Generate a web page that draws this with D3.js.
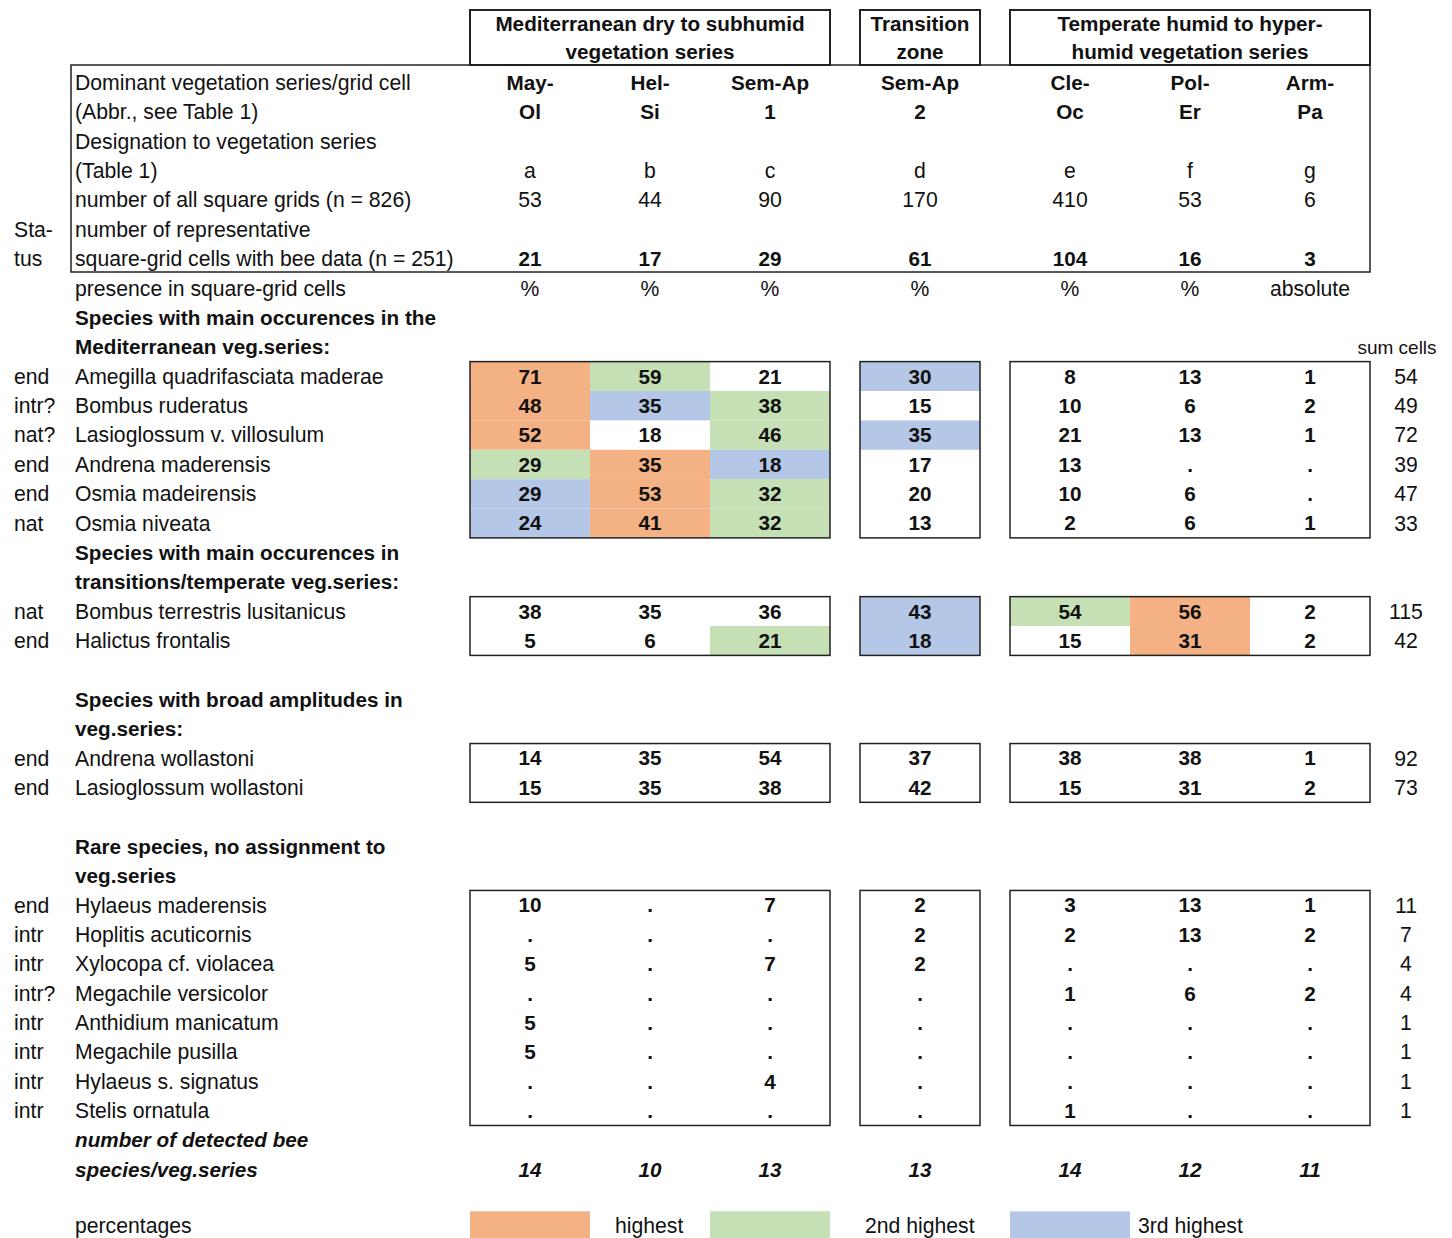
<!DOCTYPE html>
<html>
<head>
<meta charset="utf-8">
<script src="https://cdn.jsdelivr.net/npm/d3@7"></script>
<style>
  body { margin: 0; background: #fff; }
  text { font-family: "Liberation Sans", Arial, sans-serif; fill: #111; }
</style>
</head>
<body>
<script>
// ---- data ----
var colTop = ["May-", "Hel-", "Sem-Ap", "Sem-Ap", "Cle-", "Pol-", "Arm-"];
var colBottom = ["Ol", "Si", "1", "2", "Oc", "Er", "Pa"];
var colGroup = [0, 0, 0, 1, 2, 2, 2];
var groupTitles = [
    ["Mediterranean dry to subhumid", "vegetation series"],
    ["Transition", "zone"],
    ["Temperate humid to hyper-", "humid vegetation series"]
];
var designation = ["a", "b", "c", "d", "e", "f", "g"];
var allGrids = [53, 44, 90, 170, 410, 53, 6];
var beeGrids = [21, 17, 29, 61, 104, 16, 3];
var units = ["%", "%", "%", "%", "%", "%", "absolute"];

var headerLabels = [
    "Dominant vegetation series/grid cell",
    "(Abbr., see Table 1)",
    "Designation to vegetation series",
    "(Table 1)",
    "number of all square grids (n = 826)",
    "number of representative",
    "square-grid cells with bee data (n = 251)",
    "presence in square-grid cells"
];

var sectionTitles = [
    ["Species with main occurences in the", "Mediterranean veg.series:"],
    ["Species with main occurences in", "transitions/temperate veg.series:"],
    ["Species with broad amplitudes in", "veg.series:"],
    ["Rare species, no assignment to", "veg.series"]
];
var sectionStart = [8, 16, 21, 26];
var sectionSize = [6, 2, 2, 8];

var speciesNames = [
    "Amegilla quadrifasciata maderae", "Bombus ruderatus", "Lasioglossum v. villosulum",
    "Andrena maderensis", "Osmia madeirensis", "Osmia niveata",
    "Bombus terrestris lusitanicus", "Halictus frontalis",
    "Andrena wollastoni", "Lasioglossum wollastoni",
    "Hylaeus maderensis", "Hoplitis acuticornis", "Xylocopa cf. violacea", "Megachile versicolor",
    "Anthidium manicatum", "Megachile pusilla", "Hylaeus s. signatus", "Stelis ornatula"
];
var speciesStatus = [
    "end", "intr?", "nat?", "end", "end", "nat",
    "nat", "end",
    "end", "end",
    "end", "intr", "intr", "intr?", "intr", "intr", "intr", "intr"
];
// null = "." (not recorded)
var speciesValues = [
    [71, 59, 21, 30, 8, 13, 1],
    [48, 35, 38, 15, 10, 6, 2],
    [52, 18, 46, 35, 21, 13, 1],
    [29, 35, 18, 17, 13, null, null],
    [29, 53, 32, 20, 10, 6, null],
    [24, 41, 32, 13, 2, 6, 1],
    [38, 35, 36, 43, 54, 56, 2],
    [5, 6, 21, 18, 15, 31, 2],
    [14, 35, 54, 37, 38, 38, 1],
    [15, 35, 38, 42, 15, 31, 2],
    [10, null, 7, 2, 3, 13, 1],
    [null, null, null, 2, 2, 13, 2],
    [5, null, 7, 2, null, null, null],
    [null, null, null, null, 1, 6, 2],
    [5, null, null, null, null, null, null],
    [5, null, null, null, null, null, null],
    [null, null, 4, null, null, null, null],
    [null, null, null, null, 1, null, null]
];
// 1 = highest, 2 = 2nd highest, 3 = 3rd highest
var speciesRank = [
    [1, 2, 0, 3, 0, 0, 0],
    [1, 3, 2, 0, 0, 0, 0],
    [1, 0, 2, 3, 0, 0, 0],
    [2, 1, 3, 0, 0, 0, 0],
    [3, 1, 2, 0, 0, 0, 0],
    [3, 1, 2, 0, 0, 0, 0],
    [0, 0, 0, 3, 2, 1, 0],
    [0, 0, 2, 3, 0, 1, 0]
];
var sumCells = [54, 49, 72, 39, 47, 33, 115, 42, 92, 73, 11, 7, 4, 4, 1, 1, 1, 1];
var speciesTotals = [14, 10, 13, 13, 14, 12, 11];

var rankLabels = ["highest", "2nd highest", "3rd highest"];
var rankColors = ["#F4B183", "#C5E0B4", "#B4C7E7"];

// ---- layout ----
var width = 1452, height = 1238;
var svg = d3.select("body").append("svg")
    .attr("width", width)
    .attr("height", height);

// column slot: one band per column, a quarter band gap between groups
var x = d3.scaleLinear().domain([0, 1]).range([530, 650]);
var colX = function(i) { return x(i + 0.25 * colGroup[i]); };
var bw = x(1) - x(0);
var y = d3.scaleLinear().domain([0, 1]).range([82.5, 82.5 + 29.38]);
var rh = y(1) - y(0);
var color = d3.scaleOrdinal().domain([1, 2, 3]).range(rankColors);

var labelX = 75, statusX = 14, sumX = 1406;
var normalSize = 21.2, boldSize = 20.7;

function txt(xp, yp, s, opts) {
    opts = opts || {};
    return svg.append("text")
        .attr("x", xp).attr("y", yp).attr("dy", "0.35em")
        .attr("text-anchor", opts.anchor || "start")
        .style("font-size", (opts.size || (opts.bold ? boldSize : normalSize)) + "px")
        .style("font-weight", opts.bold ? "bold" : "normal")
        .style("font-style", opts.italic ? "italic" : "normal")
        .text(s);
}

// group extents
var groupExt = [0, 1, 2].map(function(g) {
    var cols = d3.range(7).filter(function(i) { return colGroup[i] == g; });
    return [colX(cols[0]) - bw / 2, colX(cols[cols.length - 1]) + bw / 2];
});

// top group header boxes
groupTitles.forEach(function(t, g) {
    svg.append("rect")
        .attr("x", groupExt[g][0]).attr("y", 10)
        .attr("width", groupExt[g][1] - groupExt[g][0]).attr("height", 55)
        .attr("fill", "none").attr("stroke", "#222").attr("stroke-width", 2);
    var cx = (groupExt[g][0] + groupExt[g][1]) / 2;
    txt(cx, 24, t[0], {anchor: "middle", bold: true});
    txt(cx, 52, t[1], {anchor: "middle", bold: true});
});

// main header box
svg.append("rect")
    .attr("x", 71).attr("y", 65)
    .attr("width", groupExt[2][1] - 71).attr("height", 207)
    .attr("fill", "none").attr("stroke", "#222").attr("stroke-width", 1.5);

headerLabels.forEach(function(l, i) { txt(labelX, y(i), l); });
txt(statusX, y(5), "Sta-");
txt(statusX, y(6), "tus");

d3.range(7).forEach(function(i) {
    var cx = colX(i);
    txt(cx, y(0), colTop[i], {anchor: "middle", bold: true});
    txt(cx, y(1), colBottom[i], {anchor: "middle", bold: true});
    txt(cx, y(3), designation[i], {anchor: "middle"});
    txt(cx, y(4), allGrids[i], {anchor: "middle"});
    txt(cx, y(6), beeGrids[i], {anchor: "middle", bold: true});
    txt(cx, y(7), units[i], {anchor: "middle"});
});

txt(1397, y(9), "sum cells", {anchor: "middle", size: 19});

// species sections
var sp = 0;
sectionTitles.forEach(function(t, s) {
    var r0 = sectionStart[s];
    txt(labelX, y(r0), t[0], {bold: true});
    txt(labelX, y(r0 + 1), t[1], {bold: true});
    var first = r0 + 2, last = r0 + 1 + sectionSize[s];

    for (var k = 0; k < sectionSize[s]; k++) {
        var idx = sp + k, r = first + k;
        var ranks = speciesRank[idx] || [0, 0, 0, 0, 0, 0, 0];
        svg.selectAll(null)
            .data(d3.range(7).filter(function(i) { return ranks[i] > 0; }))
            .enter().append("rect")
            .attr("x", function(i) { return colX(i) - bw / 2; })
            .attr("y", y(r) - rh / 2)
            .attr("width", bw).attr("height", rh)
            .attr("fill", function(i) { return color(ranks[i]); });

        txt(statusX, y(r), speciesStatus[idx]);
        txt(labelX, y(r), speciesNames[idx]);
        speciesValues[idx].forEach(function(v, i) {
            txt(colX(i), y(r), v == null ? "." : v, {anchor: "middle", bold: true});
        });
        txt(sumX, y(r), sumCells[idx], {anchor: "middle"});
    }

    groupExt.forEach(function(e) {
        svg.append("rect")
            .attr("x", e[0]).attr("y", y(first) - rh / 2)
            .attr("width", e[1] - e[0]).attr("height", y(last) - y(first) + rh)
            .attr("fill", "none").attr("stroke", "#222").attr("stroke-width", 1.5);
    });
    sp += sectionSize[s];
});

// totals
txt(labelX, y(36), "number of detected bee", {bold: true, italic: true});
txt(labelX, y(37), "species/veg.series", {bold: true, italic: true});
speciesTotals.forEach(function(v, i) {
    txt(colX(i), y(37), v, {anchor: "middle", bold: true, italic: true});
});

// legend (lifted a little so descenders stay inside the picture)
var legY = y(39) - 3;
txt(labelX, legY, "percentages");
var legX = [colX(0), colX(2), colX(4)];
rankLabels.forEach(function(l, k) {
    svg.append("rect")
        .attr("x", legX[k] - bw / 2).attr("y", y(39) - 17)
        .attr("width", bw).attr("height", 40)
        .attr("fill", rankColors[k]);
    txt(legX[k] + bw / 2 + [25, 35, 8][k], legY, l);
});
</script>
</body>
</html>
